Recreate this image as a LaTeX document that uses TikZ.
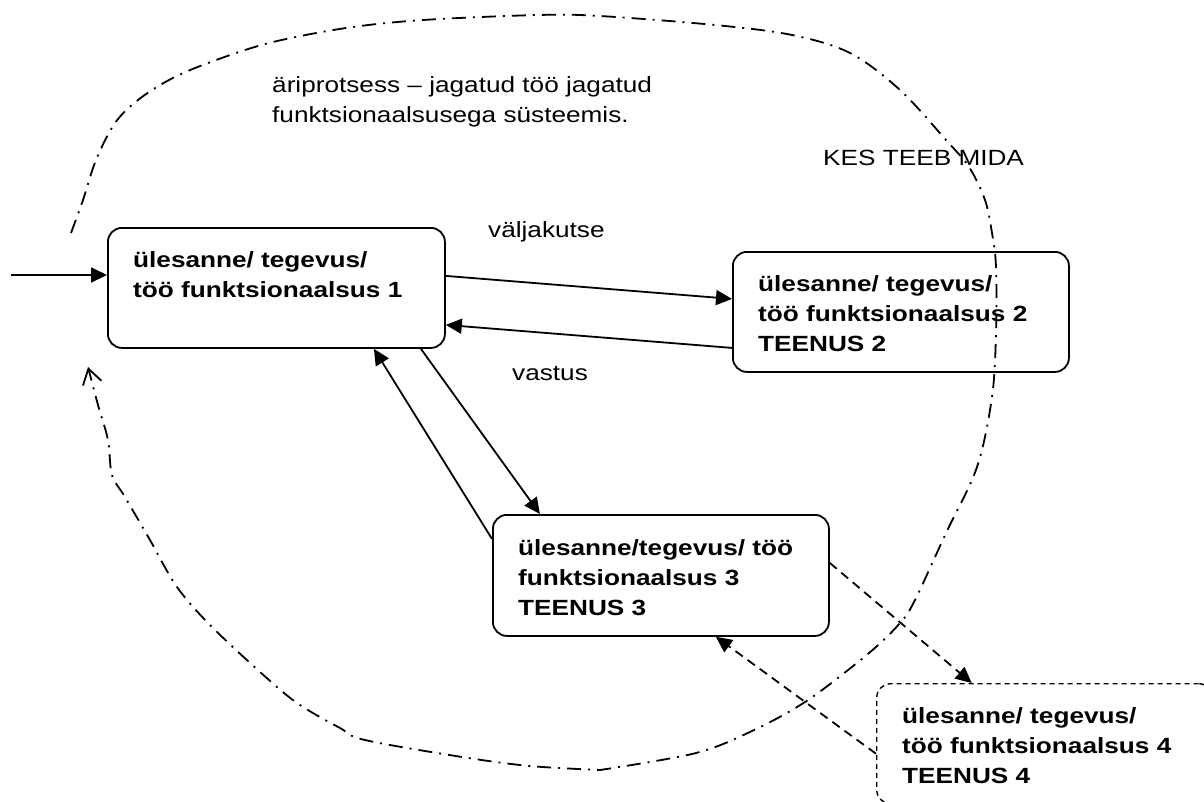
\documentclass[tikz,border=0pt]{standalone}
\usepackage{fontspec}
\setmainfont{Liberation Sans}[FakeStretch=1.19]
\usetikzlibrary{arrows.meta,calc}
\begin{document}
\begin{tikzpicture}[x=1pt,y=-1pt,
  box/.style={draw, line width=1.8pt, rounded corners=14pt, inner sep=0pt, anchor=north west, minimum width=337pt, minimum height=120pt},
  txt/.style={font={\fontsize{22}{30}\selectfont\bfseries}, align=left, inner sep=0pt, anchor=north west},
  lbl/.style={font={\fontsize{22}{30}\selectfont}, align=left, inner sep=0pt},
  arr/.style={line width=1.8pt, -{Triangle[length=16pt,width=15pt]}},
  darr/.style={arr, dash pattern=on 9pt off 6pt},
  ring/.style={line width=1.8pt, dash pattern=on 14pt off 7pt on 2pt off 7pt, -{Straight Barb[length=15pt,width=19pt,line width=1.8pt]}}
]
\useasboundingbox (0,0) rectangle (1204,801);
\clip (0,0) rectangle (1204,801);

% boxes
\node[box] (b1) at (107,227) {};
\node[box, minimum width=336pt] (b2) at (732,251) {};
\node[box, minimum width=336pt, minimum height=121pt] (b3) at (492,514) {};
\node[box, minimum width=336pt, line width=1.4pt, dash pattern=on 5pt off 4pt] (b4) at (876,683) {};

% box texts
\node[txt] (t1) at ($(b1.north west)+(26,24)$) {ülesanne/ tegevus/\\töö funktsionaalsus 1};
\node[txt] (t2) at ($(b2.north west)+(26,24)$) {ülesanne/ tegevus/\\töö funktsionaalsus 2\\TEENUS 2};
\node[txt] (t3) at ($(b3.north west)+(26,25)$) {ülesanne/tegevus/ töö\\funktsionaalsus 3\\TEENUS 3};
\node[txt] (t4) at ($(b4.north west)+(26,24)$) {ülesanne/ tegevus/\\töö funktsionaalsus 4\\TEENUS 4};

% labels
\node[lbl, anchor=north west] (title) at (272,76) {äriprotsess – jagatud töö jagatud\\funktsionaalsusega süsteemis.};
\node[lbl, anchor=base west] (kes) at (823,165) {KES TEEB MIDA};
\node[lbl, anchor=base west] (valj) at (488,237) {väljakutse};
\node[lbl, anchor=base west] (vast) at (512,380) {vastus};

% connectors
\coordinate (in) at (11,275);
\draw[arr] (in) -- (in -| b1.west);
\draw[arr] ([yshift=12pt]b1.east) -- ([yshift=13pt]b2.west);
\draw[arr] ([yshift=-36pt]b2.west) -- ([yshift=-37pt]b1.east);
\draw[arr] ([xshift=144.5pt]b1.south) -- ([xshift=-121pt]b3.north);
\draw[arr] ([yshift=36.5pt]b3.west) -- ([xshift=97.5pt]b1.south);
\draw[darr] ([yshift=12.5pt]b3.east) -- ([xshift=-73pt]b4.north);
\draw[darr] ([yshift=-10pt]b4.west) -- ([xshift=55pt]b3.south);

% process boundary
\draw[ring] plot[smooth, tension=0.55] coordinates {(71,233) (83,200) (96,160) (115,123) (138,100) (169,80) (208,63) (269,43) (346,28) (423,20) (538,15) (600,16) (715,25) (792,35) (850,53) (900,90) (946,140) (969,167) (985,200) (992,233) (996,267) (996,333) (992,397) (977,467) (946,533) (915,600) (900,623) (869,653) (808,700) (754,730) (696,753) (600,770)}
  -- plot[smooth, tension=0.55] coordinates {(600,770) (530,766) (462,757) (365,740) (340,728) (300,705) (269,680) (212,627) (177,587) (150,540) (125,497) (112,475) (108,440) (98,405) (88,367)};
\end{tikzpicture}
\end{document}
